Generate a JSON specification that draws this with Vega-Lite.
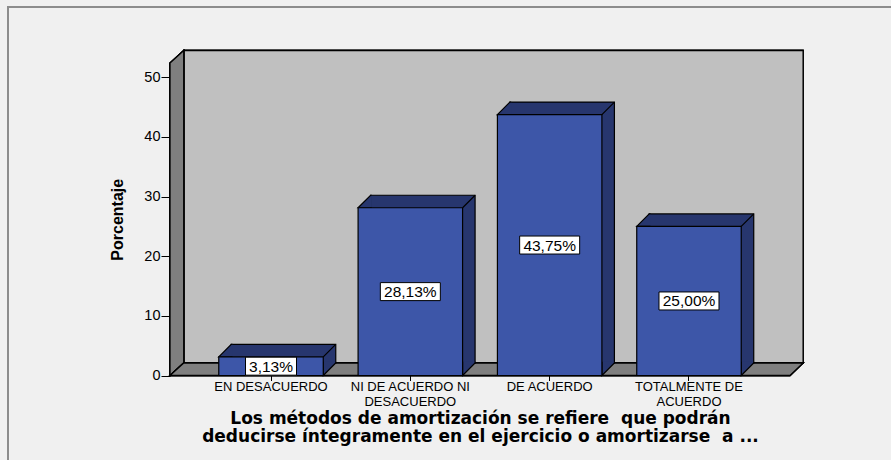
{
  "$schema": "https://vega.github.io/schema/vega-lite/v6.json",
  "width": 620,
  "height": 312.5,
  "autosize": {"type": "none"},
  "padding": {"left": 170, "top": 63, "right": 101, "bottom": 84.5},
  "background": "#f0f0f0",
  "config": {"view": {"stroke": null}, "font": "Liberation Sans"},
  "data": {
    "values": [
      {"respuesta": "EN DESACUERDO", "porcentaje": 3.13, "etiqueta": "3,13%"},
      {"respuesta": "NI DE ACUERDO NI DESACUERDO", "porcentaje": 28.13, "etiqueta": "28,13%"},
      {"respuesta": "DE ACUERDO", "porcentaje": 43.75, "etiqueta": "43,75%"},
      {"respuesta": "TOTALMENTE DE ACUERDO", "porcentaje": 25.0, "etiqueta": "25,00%"}
    ]
  },
  "encoding": {
    "x": {
      "field": "respuesta",
      "type": "nominal",
      "sort": null,
      "scale": {"paddingInner": 0.25, "paddingOuter": 0.35},
      "title": ["Los métodos de amortización se refiere \u00a0que podrán", "deducirse íntegramente en el ejercicio o amortizarse \u00a0a ..."],
      "axis": {
        "domain": false,
        "ticks": true,
        "tickSize": 5,
        "tickColor": "#000000",
        "labelAngle": 0,
        "labelFontSize": 13,
        "labelColor": "#000000",
        "labelPadding": 0,
        "labelLineHeight": 14.5,
        "labelExpr": "datum.value == 'NI DE ACUERDO NI DESACUERDO' ? ['NI DE ACUERDO NI', 'DESACUERDO'] : datum.value == 'TOTALMENTE DE ACUERDO' ? ['TOTALMENTE DE', 'ACUERDO'] : datum.label",
        "titleFont": "DejaVu Sans",
        "titleFontSize": 17,
        "titleFontWeight": "bold",
        "titleColor": "#000000",
        "titlePadding": 2,
        "titleLineHeight": 18.5
      }
    }
  },
  "layer": [
    {
      "encoding": {
        "y": {
          "field": "porcentaje",
          "type": "quantitative",
          "scale": {"domain": [0, 52.4], "nice": false, "zero": true},
          "title": "Porcentaje",
          "axis": {
            "values": [0, 10, 20, 30, 40, 50],
            "grid": false,
            "domain": true,
            "domainColor": "#000000",
            "tickSize": 9,
            "tickColor": "#000000",
            "labelFontSize": 14.5,
            "labelColor": "#000000",
            "labelPadding": 1,
            "titleFontSize": 16,
            "titleFontWeight": "bold",
            "titleColor": "#000000",
            "titlePadding": 18
          }
        }
      },
      "layer": [
        {
          "mark": {"type": "point", "shape": "M-12.96,7 L-12.96,-29.48 L58,-29.48", "size": 625, "filled": false, "stroke": "#8c8c8c", "strokeWidth": 2, "opacity": 1},
          "encoding": {"x": {"value": 0}, "y": {"value": "height"}}
        },
        {
          "mark": {"type": "point", "shape": "M1.1,-1 L50.65,-1 L50.65,-26 L1.1,-26 Z", "size": 625, "filled": true, "fill": "#c0c0c0", "stroke": "#000000", "strokeWidth": 1.3, "opacity": 1},
          "encoding": {"x": {"value": 0}, "y": {"value": "height"}}
        },
        {
          "mark": {"type": "point", "shape": "M0,0 L0,-25 L1.1,-26 L1.1,-1 Z", "size": 625, "filled": true, "fill": "#7f7f7f", "stroke": "#000000", "strokeWidth": 1.3, "opacity": 1},
          "encoding": {"x": {"value": 0}, "y": {"value": "height"}}
        },
        {
          "mark": {"type": "point", "shape": "M0,0 L49.6,0 L50.65,-1 L1.1,-1 Z", "size": 625, "filled": true, "fill": "#7f7f7f", "stroke": "#000000", "strokeWidth": 1.3, "opacity": 1},
          "encoding": {"x": {"value": 0}, "y": {"value": "height"}}
        },
        {
          "mark": {"type": "bar", "xOffset": 12.5, "x2Offset": 12.5, "yOffset": -12.5, "y2Offset": -12.5, "fill": "#27366e", "stroke": "#000000", "strokeWidth": 1.2}
        },
        {
          "mark": {"type": "point", "shape": "M1.1,0 L0,0 L1,-1 L1.1,-1", "size": 625, "filled": true, "fill": "#27366e", "stroke": "#000000", "strokeWidth": 1.2, "opacity": 1},
          "encoding": {"x": {"field": "respuesta", "type": "nominal", "bandPosition": 0}}
        },
        {
          "mark": {"type": "point", "shape": "M0,-1.1 L0,0 L1,-1 L1,-1.1", "size": 625, "filled": true, "fill": "#27366e", "stroke": "#000000", "strokeWidth": 1.2, "opacity": 1},
          "encoding": {"x": {"field": "respuesta", "type": "nominal", "bandPosition": 1}, "y": {"value": "height"}}
        },
        {
          "mark": {"type": "point", "shape": "M0,0 L1,-1", "size": 625, "filled": false, "stroke": "#000000", "strokeWidth": 1.2, "opacity": 1},
          "encoding": {"x": {"field": "respuesta", "type": "nominal", "bandPosition": 1}}
        },
        {
          "mark": {"type": "bar", "fill": "#3d56a8", "stroke": "#000000", "strokeWidth": 1.2}
        }
      ]
    },
    {
      "encoding": {
        "y": {
          "field": "porcentaje",
          "type": "quantitative",
          "scale": {"domain": [0, 104.8], "nice": false, "zero": true},
          "axis": null
        }
      },
      "layer": [
        {
          "transform": [{"filter": "datum.porcentaje >= 10"}],
          "mark": {"type": "point", "shape": "M-1,-0.3 L1,-0.3 L1,0.3 L-1,0.3 Z", "size": 3600, "filled": true, "fill": "#ffffff", "stroke": "#000000", "strokeWidth": 1, "opacity": 1}
        },
        {
          "transform": [{"filter": "datum.porcentaje < 10"}],
          "mark": {"type": "point", "shape": "M-1,-0.353 L1,-0.353 L1,0.353 L-1,0.353 Z", "size": 2601, "filled": true, "fill": "#ffffff", "stroke": "#000000", "strokeWidth": 1, "opacity": 1}
        },
        {
          "mark": {"type": "text", "fontSize": 15.5, "color": "#000000", "align": "center", "baseline": "middle", "dy": 0.5},
          "encoding": {"text": {"field": "etiqueta"}}
        }
      ]
    }
  ],
  "resolve": {"scale": {"y": "independent"}}
}
